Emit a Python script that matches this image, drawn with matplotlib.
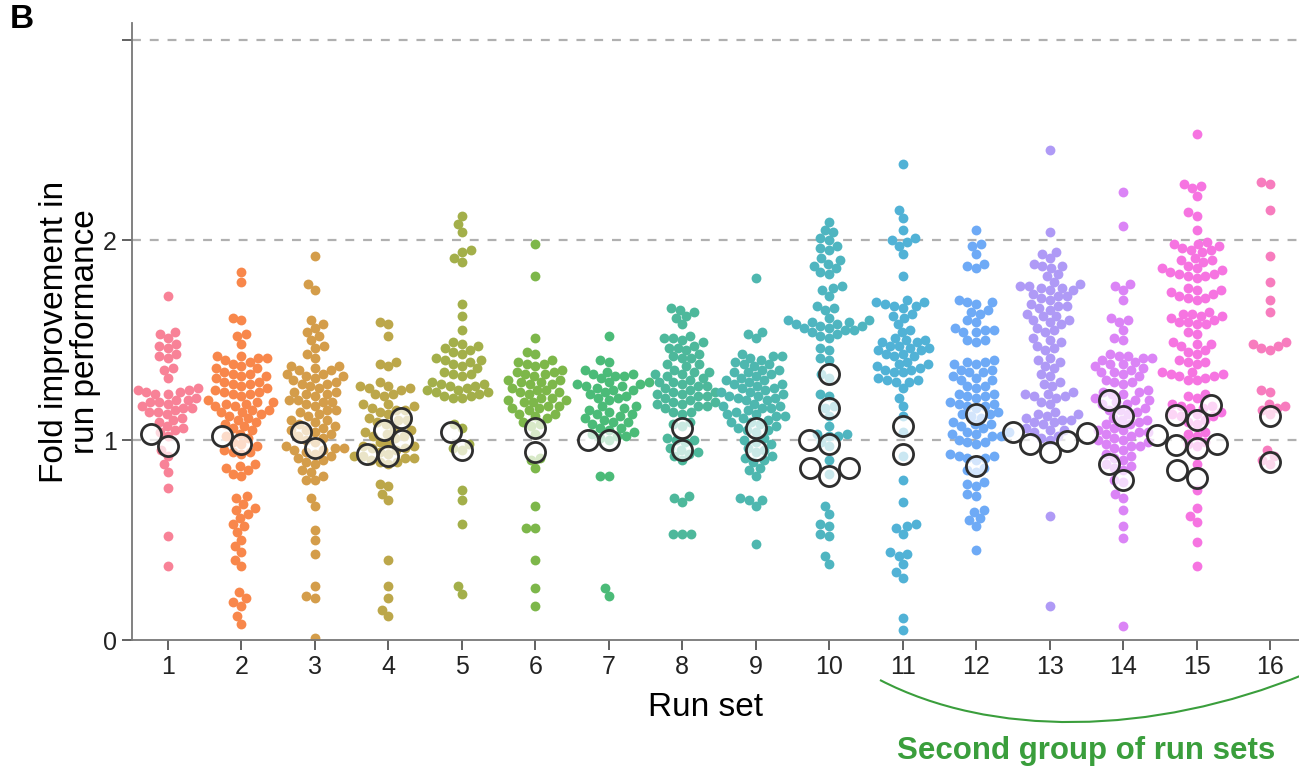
import numpy as np
import matplotlib.pyplot as plt
from matplotlib.path import Path
from matplotlib.patches import PathPatch
import seaborn as sns

plt.rcParams['font.family'] = ['Liberation Sans', 'DejaVu Sans']

run_sets = [str(i) for i in range(1, 17)]

# fold improvement per run, one list per run set
g1 = [1.72, 1.54, 1.53, 1.51, 1.48, 1.47, 1.46, 1.43, 1.42, 1.41, 1.36, 1.35, 1.31,
      1.26, 1.25, 1.25, 1.24, 1.24, 1.23, 1.23, 1.21, 1.20, 1.20, 1.19, 1.19, 1.18,
      1.17, 1.16, 1.16, 1.15, 1.14, 1.14, 1.13, 1.11, 1.10, 1.09, 1.07, 1.06, 1.05,
      1.04, 1.02, 0.95, 0.92, 0.88, 0.84, 0.76, 0.52, 0.37]
g2 = [1.84, 1.79, 1.61, 1.60, 1.53, 1.52, 1.48, 1.42, 1.42, 1.41, 1.41, 1.40, 1.39,
      1.38, 1.37, 1.36, 1.36, 1.34, 1.33, 1.33, 1.32, 1.32, 1.31,
      1.29, 1.29, 1.28, 1.28, 1.27, 1.26, 1.25, 1.24, 1.24, 1.23, 1.23, 1.22,
      1.20, 1.19, 1.19, 1.18, 1.18, 1.17, 1.17, 1.15, 1.15, 1.14, 1.14, 1.13, 1.12,
      1.11, 1.10, 1.09, 1.08, 1.07, 1.06, 1.05, 1.03, 1.02, 1.01, 0.99, 0.98, 0.97,
      0.95, 0.94, 0.94, 0.93, 0.88, 0.87, 0.86, 0.85, 0.83, 0.82,
      0.72, 0.71, 0.68, 0.66, 0.65, 0.63, 0.61, 0.58, 0.57, 0.54, 0.50, 0.47, 0.44, 0.40, 0.37,
      0.24, 0.21, 0.19, 0.17, 0.12, 0.08]
g3 = [1.92, 1.78, 1.75, 1.60, 1.58, 1.56, 1.54, 1.52, 1.50, 1.47, 1.46, 1.43, 1.41,
      1.37, 1.37, 1.36, 1.35, 1.35, 1.33, 1.33, 1.32, 1.32, 1.31, 1.30,
      1.29, 1.28, 1.28, 1.27, 1.26, 1.24, 1.24, 1.23, 1.23, 1.22,
      1.20, 1.20, 1.19, 1.19, 1.18, 1.17, 1.15, 1.15, 1.14, 1.13, 1.12,
      1.10, 1.10, 1.09, 1.08, 1.07, 1.06, 1.05, 1.05, 1.04, 1.03, 1.02, 1.01, 1.00, 0.99,
      0.97, 0.96, 0.96, 0.95, 0.95, 0.94, 0.93, 0.92, 0.91, 0.90, 0.89, 0.88,
      0.85, 0.84, 0.82, 0.80, 0.80, 0.71, 0.67, 0.55, 0.50, 0.43, 0.27, 0.22, 0.21, 0.01]
g4 = [1.59, 1.58, 1.52, 1.39, 1.38, 1.37, 1.29, 1.27, 1.27, 1.26, 1.26, 1.25, 1.23, 1.23, 1.22,
      1.18, 1.18, 1.17, 1.16, 1.15, 1.15, 1.14, 1.13, 1.11, 1.10, 1.10, 1.09, 1.08,
      1.06, 1.05, 1.04, 1.03, 1.02, 1.02, 1.01, 0.99, 0.98, 0.97, 0.97, 0.96, 0.96, 0.95, 0.94,
      0.93, 0.92, 0.92, 0.91, 0.91, 0.90, 0.89, 0.89, 0.88,
      0.78, 0.77, 0.73, 0.70, 0.40, 0.27, 0.21, 0.15, 0.12]
g5 = [2.12, 2.08, 2.04, 1.95, 1.94, 1.91, 1.89, 1.68, 1.62, 1.55,
      1.49, 1.48, 1.47, 1.46, 1.45, 1.44, 1.43, 1.41, 1.40, 1.40, 1.39, 1.38, 1.37, 1.36,
      1.34, 1.33, 1.33, 1.32, 1.29, 1.28, 1.28, 1.27, 1.27, 1.26,
      1.25, 1.25, 1.24, 1.24, 1.23, 1.22, 1.22, 1.21, 1.21,
      1.08, 1.06, 0.98, 0.96, 0.95, 0.75, 0.70, 0.58, 0.27, 0.23]
g6 = [1.98, 1.82, 1.51, 1.44, 1.43, 1.40, 1.39, 1.38, 1.38, 1.37,
      1.35, 1.34, 1.34, 1.33, 1.33, 1.32, 1.30, 1.30, 1.29, 1.29, 1.28, 1.28,
      1.26, 1.25, 1.25, 1.24, 1.24, 1.23, 1.21, 1.21, 1.20, 1.20, 1.19, 1.19,
      1.17, 1.17, 1.16, 1.16, 1.15, 1.13, 1.13, 1.12, 1.11, 1.09, 1.08, 1.07, 1.03,
      0.91, 0.90, 0.86, 0.67, 0.56, 0.56, 0.40, 0.26, 0.17]
g7 = [1.52, 1.40, 1.39, 1.35, 1.34, 1.33, 1.33, 1.32, 1.32, 1.31,
      1.29, 1.29, 1.28, 1.28, 1.27, 1.27, 1.26, 1.25, 1.25, 1.24, 1.23,
      1.22, 1.21, 1.21, 1.20, 1.17, 1.17, 1.16, 1.15, 1.14, 1.13, 1.13, 1.12, 1.11,
      1.10, 1.09, 1.09, 1.08, 1.06, 1.06, 1.05, 1.04, 1.03, 1.02, 1.02, 1.01, 1.00,
      0.82, 0.82, 0.26, 0.22]
g8 = [1.66, 1.65, 1.64, 1.62, 1.61, 1.58, 1.52, 1.51, 1.51, 1.50, 1.49,
      1.47, 1.46, 1.46, 1.45, 1.43, 1.42, 1.41, 1.41, 1.38, 1.38, 1.37,
      1.35, 1.34, 1.34, 1.33, 1.33, 1.32, 1.31, 1.30, 1.29, 1.29, 1.28, 1.27, 1.27, 1.26,
      1.25, 1.24, 1.24, 1.23, 1.23, 1.22, 1.22, 1.21, 1.20, 1.19, 1.19, 1.18, 1.18, 1.17, 1.17, 1.16,
      1.14, 1.14, 1.13, 1.09, 1.08, 1.07,
      1.01, 1.00, 1.00, 0.99, 0.96, 0.95, 0.94, 0.93, 0.92, 0.90,
      0.72, 0.71, 0.69, 0.53, 0.53, 0.53]
g9 = [1.81, 1.54, 1.53, 1.51, 1.43, 1.42, 1.42, 1.41, 1.40, 1.39, 1.38, 1.38, 1.37,
      1.35, 1.35, 1.34, 1.34, 1.33, 1.32, 1.31, 1.30, 1.30, 1.29, 1.28, 1.28,
      1.27, 1.26, 1.26, 1.25, 1.24, 1.24, 1.23, 1.22, 1.22, 1.21, 1.21, 1.20, 1.20,
      1.18, 1.17, 1.17, 1.16, 1.16, 1.15, 1.14, 1.13, 1.13, 1.12, 1.12, 1.11,
      1.10, 1.09, 1.09, 1.08, 1.07, 1.06, 1.05, 1.05, 1.04, 1.01, 1.00, 0.99, 0.98,
      0.96, 0.95, 0.94, 0.92, 0.91, 0.90, 0.89, 0.86, 0.85, 0.82,
      0.71, 0.70, 0.70, 0.67, 0.48]
g10 = [2.09, 2.05, 2.04, 2.01, 2.00, 1.97, 1.96, 1.95, 1.91, 1.90,
       1.88, 1.87, 1.86, 1.84, 1.83, 1.77, 1.76, 1.75, 1.72, 1.67, 1.66, 1.65,
       1.61, 1.60, 1.60, 1.59, 1.59, 1.58, 1.58, 1.57, 1.57,
       1.56, 1.56, 1.55, 1.55, 1.54, 1.53, 1.52, 1.51, 1.46, 1.45, 1.41, 1.40,
       1.33, 1.31, 1.23, 1.22, 1.17, 1.16, 1.12, 1.07,
       1.03, 1.03, 1.02, 1.02, 0.99, 0.97, 0.90, 0.83,
       0.67, 0.63, 0.58, 0.57, 0.53, 0.52, 0.42, 0.38]
g11 = [2.38, 2.15, 2.11, 2.05, 2.01, 2.00, 1.99, 1.97, 1.93, 1.82,
       1.70, 1.69, 1.69, 1.68, 1.67, 1.67, 1.66, 1.63, 1.62, 1.61, 1.58, 1.55, 1.54,
       1.51, 1.50, 1.50, 1.49, 1.49, 1.47, 1.47, 1.46, 1.46, 1.45, 1.45,
       1.43, 1.43, 1.42, 1.42, 1.39, 1.38, 1.38, 1.37, 1.36, 1.35, 1.35, 1.34, 1.34,
       1.31, 1.30, 1.30, 1.29, 1.29, 1.26, 1.21, 1.17, 1.12, 1.04,
       0.92, 0.80, 0.69, 0.58, 0.57, 0.56, 0.53, 0.44, 0.43, 0.42, 0.38, 0.34, 0.31, 0.11, 0.05]
g12 = [2.05, 1.98, 1.97, 1.93, 1.88, 1.87, 1.86,
       1.70, 1.69, 1.69, 1.68, 1.65, 1.64, 1.63, 1.60, 1.59,
       1.56, 1.55, 1.55, 1.54, 1.54, 1.50, 1.50, 1.49, 1.40, 1.39, 1.39, 1.38, 1.38,
       1.35, 1.35, 1.34, 1.34, 1.32, 1.31, 1.30, 1.30, 1.27, 1.27, 1.26,
       1.23, 1.23, 1.22, 1.22, 1.21, 1.19, 1.18, 1.18, 1.17, 1.17, 1.16,
       1.14, 1.13, 1.13, 1.12, 1.11, 1.09, 1.08, 1.08, 1.07, 1.06,
       1.04, 1.04, 1.03, 1.03, 1.02, 1.02, 1.00, 0.99, 0.99, 0.98,
       0.93, 0.92, 0.92, 0.91, 0.91, 0.90, 0.86, 0.85, 0.84, 0.79, 0.78, 0.77, 0.73, 0.72,
       0.65, 0.64, 0.61, 0.60, 0.57, 0.45]
g13 = [2.45, 2.04, 1.94, 1.93, 1.91, 1.88, 1.87, 1.87, 1.86, 1.83, 1.82, 1.79, 1.78,
       1.77, 1.77, 1.76, 1.76, 1.75, 1.75, 1.73, 1.72, 1.72, 1.71, 1.70,
       1.68, 1.67, 1.67, 1.66, 1.65, 1.63, 1.62, 1.62, 1.60, 1.60, 1.59, 1.58,
       1.56, 1.55, 1.54, 1.51, 1.50, 1.49, 1.47, 1.46, 1.45, 1.41, 1.40, 1.39,
       1.37, 1.36, 1.33, 1.32, 1.29, 1.28, 1.27, 1.24, 1.23, 1.23, 1.22, 1.22, 1.21,
       1.19, 1.18, 1.14, 1.13, 1.13, 1.12, 1.11, 1.10, 1.10, 1.09, 1.09, 1.08,
       1.06, 1.05, 1.05, 1.04, 1.02, 1.01, 1.00, 0.62, 0.17]
g14 = [2.24, 2.07, 1.78, 1.77, 1.75, 1.70, 1.61, 1.60, 1.59, 1.55, 1.51, 1.50,
       1.43, 1.42, 1.42, 1.41, 1.41, 1.40, 1.39, 1.38, 1.38, 1.37, 1.36,
       1.35, 1.34, 1.34, 1.33, 1.32, 1.30, 1.29, 1.29, 1.28,
       1.25, 1.24, 1.24, 1.23, 1.23, 1.21, 1.20, 1.20, 1.19, 1.18, 1.18,
       1.16, 1.15, 1.15, 1.14, 1.13, 1.11, 1.10, 1.10, 1.09, 1.08, 1.08,
       1.06, 1.05, 1.05, 1.04, 1.04, 1.03, 1.02, 1.01, 1.00, 1.00, 0.99,
       0.98, 0.97, 0.97, 0.96, 0.95, 0.93, 0.92, 0.91, 0.90, 0.88, 0.87, 0.86, 0.85,
       0.80, 0.79, 0.73, 0.71, 0.65, 0.57, 0.51, 0.07]
g15 = [2.53, 2.28, 2.27, 2.26, 2.22, 2.14, 2.12, 2.05,
       1.99, 1.98, 1.98, 1.97, 1.96, 1.95, 1.95, 1.94,
       1.91, 1.90, 1.90, 1.89, 1.87, 1.86, 1.86, 1.85, 1.84, 1.83, 1.83, 1.82, 1.82, 1.81,
       1.76, 1.75, 1.75, 1.74, 1.73, 1.72, 1.71, 1.71, 1.70,
       1.64, 1.63, 1.63, 1.62, 1.62, 1.61, 1.60, 1.59, 1.59, 1.58, 1.58,
       1.54, 1.53, 1.49, 1.48, 1.48, 1.47, 1.45, 1.44, 1.43, 1.40, 1.39, 1.39, 1.38,
       1.34, 1.34, 1.33, 1.33, 1.32, 1.32, 1.31, 1.30, 1.30, 1.23, 1.22, 1.21,
       1.18, 1.17, 1.17, 1.16, 1.16, 1.14, 1.13, 1.13, 1.12, 1.12, 1.10, 1.09, 1.08,
       1.04, 1.03, 1.02, 0.99, 0.98, 0.97, 0.88, 0.75, 0.66, 0.62, 0.59, 0.49, 0.37]
g16 = [2.29, 2.28, 2.15, 1.92, 1.79, 1.70, 1.64, 1.49, 1.48, 1.47, 1.46, 1.45,
       1.25, 1.24, 1.18, 1.17, 1.16, 1.15, 1.13, 0.95, 0.92, 0.90, 0.88]
runs = [g1, g2, g3, g4, g5, g6, g7, g8, g9, g10, g11, g12, g13, g14, g15, g16]

# baseline runs (open circles)
baseline = [[1.03, 0.97], [1.02, 0.98], [1.04, 0.96], [0.93, 1.05, 1.11, 1.00, 0.92],
            [1.04, 0.95], [1.06, 0.94], [1.00, 1.00], [1.06, 0.95], [1.06, 0.95],
            [1.33, 1.16, 1.00, 0.98, 0.86, 0.82, 0.86], [1.07, 0.93], [1.13, 0.87],
            [1.035, 0.98, 0.94, 0.995, 1.04], [1.20, 1.12, 0.88, 0.80],
            [1.175, 1.10, 1.125, 1.025, 0.975, 0.96, 0.98, 0.85, 0.81], [1.12, 0.89]]

# husl palette, softened a little toward white
colors = [tuple(0.88 * c + 0.12 for c in col) for col in sns.color_palette('husl', 16)]


def swarm_offsets(ypix, r):
    # seaborn-style beeswarm in pixel space, lowest value placed first
    order = np.argsort(ypix, kind='stable')
    px, py = [], []
    out = np.zeros(len(ypix))
    for idx in order:
        y = ypix[idx]
        ax_ = np.array(px)
        ay_ = np.array(py)
        if len(ax_):
            near = np.abs(ay_ - y) < 2 * r
            nx, ny = ax_[near], ay_[near]
        else:
            nx, ny = np.array([]), np.array([])
        cands = [0.0]
        for a, b in zip(nx, ny):
            d = np.sqrt(max((2 * r) ** 2 - (y - b) ** 2, 0))
            cands += [a - d, a + d]
        cands = sorted(cands, key=lambda c: (abs(c), c))
        for c in cands:
            if len(nx) == 0 or np.all((nx - c) ** 2 + (ny - y) ** 2 >= (2 * r) ** 2 - 1e-3):
                break
        out[idx] = c
        px.append(c)
        py.append(y)
    return out


W, H = 1299, 770
fig = plt.figure(figsize=(W / 100, H / 100), dpi=100)
ax = fig.add_axes([132 / W, 1 - 640 / H, 1 - 132 / W, (640 - 23) / H])
ax.set_xlim(-0.49, 15.395)
ax.set_ylim(0, 3.085)

unit_x = ax.transData.transform([(1, 0)])[0, 0] - ax.transData.transform([(0, 0)])[0, 0]

for i, vals in enumerate(runs):
    vals = np.array(vals)
    ypix = ax.transData.transform(np.c_[np.zeros(len(vals)), vals])[:, 1]
    off = swarm_offsets(ypix, 4.5)
    ax.scatter(i + off / unit_x, vals, s=50, color=colors[i], linewidths=0, zorder=2)

for i, vals in enumerate(baseline):
    vals = np.array(vals)
    ypix = ax.transData.transform(np.c_[np.zeros(len(vals)), vals])[:, 1]
    off = swarm_offsets(ypix, 10.5)
    ax.scatter(i + off / unit_x, vals, s=210, facecolor=(1, 1, 1, 0.7),
               edgecolor='#2e2e2e', linewidths=2.0, zorder=3)

for v in [1, 2, 3]:
    ax.axhline(v, ls=(0, (4, 4)), color='#b0b0b0', lw=1.6, zorder=0)

ax.set_xticks(range(16), run_sets)
ax.set_yticks([0, 1, 2, 3], ['0', '1', '2', ''])
ax.tick_params(direction='out', length=7, width=1.3, color='#555555',
               labelsize=18, labelcolor='#222222', pad=4)
for s in ['top', 'right']:
    ax.spines[s].set_visible(False)
for s in ['left', 'bottom']:
    ax.spines[s].set_color('#777777')
    ax.spines[s].set_linewidth(1.3)

ax.set_xlabel('Run set', fontsize=24, labelpad=13)
ax.xaxis.set_label_coords((706 - 132) / (W - 132), -0.085)
ax.set_ylabel('Fold improvement in\nrun performance', fontsize=24, labelpad=1, linespacing=1.0)

fig.text(10 / W, 1 - 4 / H, 'B', fontsize=24, fontweight='bold', va='top')

# brace under run sets 11-16
pts = [(880, 680), (990, 737), (1150, 737), (1305, 674)]
brace = Path([(x / W, 1 - y / H) for x, y in pts],
             [Path.MOVETO, Path.CURVE4, Path.CURVE4, Path.CURVE4])
fig.add_artist(PathPatch(brace, fill=False, edgecolor='#3a9e3c', lw=1.5,
                         transform=fig.transFigure))
fig.text(1086 / W, 1 - 751 / H, 'Second group of run sets', color='#3a9e3c',
         fontsize=22.5, fontweight='bold', ha='center', va='center')

fig.savefig('out.png', dpi=100)
